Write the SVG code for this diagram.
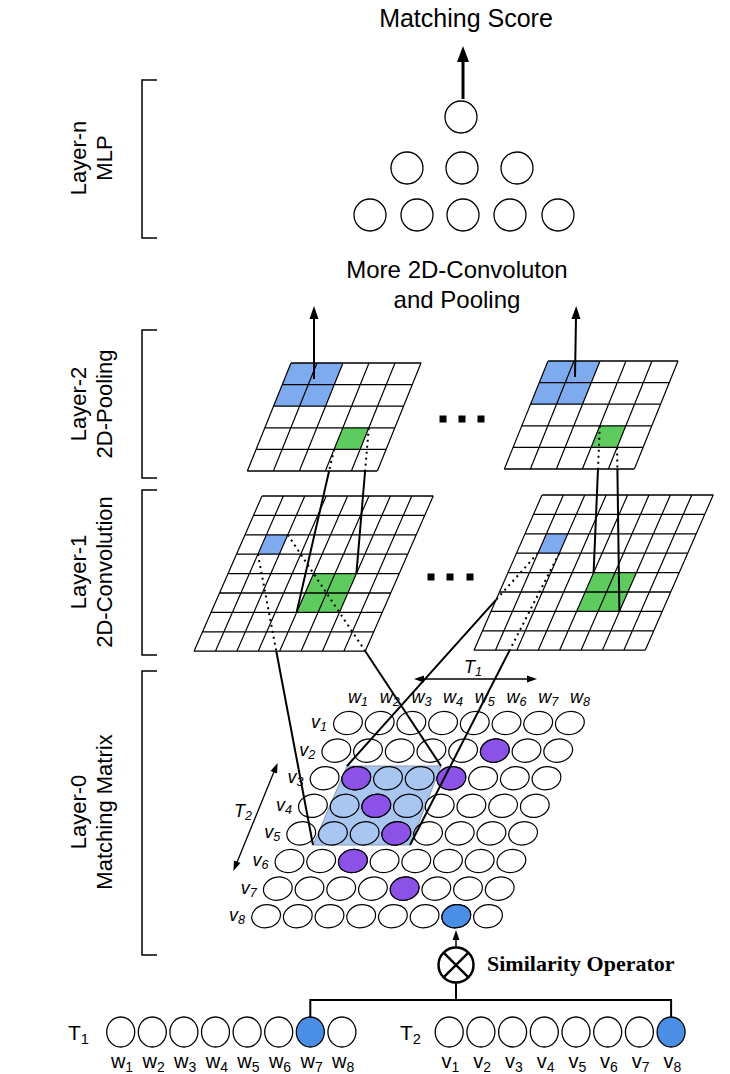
<svg xmlns="http://www.w3.org/2000/svg" width="730" height="1074" viewBox="0 0 730 1074">
<style>
text{font-family:"Liberation Sans",Arial,sans-serif;fill:#000}
.lbl{font-size:22px;text-anchor:middle}
.big{font-size:24px;text-anchor:middle}
.it{font-style:italic;font-size:18px;text-anchor:middle}
.bt{font-size:20px;text-anchor:middle}
.sub{font-size:0.7em}
.br{fill:none;stroke:#000;stroke-width:1.5}
.nd{fill:#fff;stroke:#000;stroke-width:1.3}
.grid{fill:none;stroke:#000;stroke-width:1.3}
.cb{fill:#7eaaf0}
.cg{fill:#5ecb5e}
.el{fill:none;stroke:#000;stroke-width:1.2}
.pu{fill:#8c52e8;stroke:#000;stroke-width:1.2}
.bl{fill:#4a8ee6;stroke:#000;stroke-width:1.2}
.sol{fill:none;stroke:#000;stroke-width:2}
.dot{fill:none;stroke:#000;stroke-width:2;stroke-dasharray:2 4}
.thin{fill:none;stroke:#000;stroke-width:1.3}
.sq{fill:#000}
</style>
<defs>
<marker id="ahB" markerUnits="userSpaceOnUse" markerWidth="16" markerHeight="12" refX="1" refY="6" orient="auto" overflow="visible"><path d="M0,0L16,6L0,12z"/></marker>
<marker id="ahM" markerUnits="userSpaceOnUse" markerWidth="13" markerHeight="9" refX="1" refY="4.5" orient="auto" overflow="visible"><path d="M0,0L13,4.5L0,9z"/></marker>
<marker id="ahS" markerUnits="userSpaceOnUse" markerWidth="10" markerHeight="7" refX="1" refY="3.5" orient="auto-start-reverse" overflow="visible"><path d="M0,0L10,3.5L0,7z"/></marker>
<path id="pgrid" d="M0,0H130M0,21.6H130M0,43.2H130M0,64.8H130M0,86.4H130M0,108H130M0,0V108M26,0V108M52,0V108M78,0V108M104,0V108M130,0V108"/>
<path id="cgrid" d="M0,0H171.2M0,19.4H171.2M0,38.8H171.2M0,58.2H171.2M0,77.6H171.2M0,97H171.2M0,116.4H171.2M0,135.8H171.2M0,155.2H171.2M0,0V155.2M21.4,0V155.2M42.8,0V155.2M64.2,0V155.2M85.6,0V155.2M107,0V155.2M128.4,0V155.2M149.8,0V155.2M171.2,0V155.2"/>
<ellipse id="e" rx="14.5" ry="11.5" transform="rotate(-12)"/>
<g id="row" class="el">
<use href="#e" x="0"/><use href="#e" x="31.7"/><use href="#e" x="63.4"/><use href="#e" x="95.1"/><use href="#e" x="126.8"/><use href="#e" x="158.5"/><use href="#e" x="190.2"/><use href="#e" x="221.9"/>
</g>
</defs>
<rect width="730" height="1074" fill="#fff"/>

<g id="layer-labels">
<path class="br" d="M157,80H142V238H157"/>
<path class="br" d="M157,330H142V478H157"/>
<path class="br" d="M157,490H142V655H157"/>
<path class="br" d="M157,671H142V955H157"/>
<text class="lbl" transform="translate(86,158) rotate(-90)">Layer-n</text>
<text class="lbl" transform="translate(112,158) rotate(-90)">MLP</text>
<text class="lbl" transform="translate(86,404) rotate(-90)">Layer-2</text>
<text class="lbl" transform="translate(112,404) rotate(-90)">2D-Pooling</text>
<text class="lbl" transform="translate(86,572) rotate(-90)">Layer-1</text>
<text class="lbl" transform="translate(112,572) rotate(-90)">2D-Convolution</text>
<text class="lbl" transform="translate(86,812) rotate(-90)">Layer-0</text>
<text class="lbl" transform="translate(112,812) rotate(-90)">Matching Matrix</text>
</g>

<g id="score"><text x="466" y="27" style="font-size:25px;text-anchor:middle">Matching Score</text></g>

<g id="mlp">
<circle class="nd" cx="461" cy="117" r="16"/>
<circle class="nd" cx="407" cy="168" r="16"/><circle class="nd" cx="462" cy="168" r="16"/><circle class="nd" cx="517" cy="168" r="16"/>
<circle class="nd" cx="370" cy="215" r="16"/><circle class="nd" cx="417" cy="215" r="16"/><circle class="nd" cx="463" cy="215" r="16"/><circle class="nd" cx="510" cy="215" r="16"/><circle class="nd" cx="558" cy="215" r="16"/>
</g>

<g id="more-conv"><text class="big" x="457" y="278">More 2D-Convoluton</text><text class="big" x="457" y="308">and Pooling</text></g>

<g id="pool-left" transform="matrix(1,0,-0.404,1,291,363)">
<rect class="cb" x="0" y="0" width="52" height="43.2"/>
<rect class="cg" x="78" y="64.8" width="26" height="21.6"/>
<use href="#pgrid" class="grid"/>
</g>
<g id="pool-right" transform="matrix(1,0,-0.404,1,548,361)">
<rect class="cb" x="0" y="0" width="52" height="43.2"/>
<rect class="cg" x="78" y="64.8" width="26" height="21.6"/>
<use href="#pgrid" class="grid"/>
</g>
<g id="pool-dots"><rect class="sq" x="439.5" y="415.5" width="7" height="7"/><rect class="sq" x="458.5" y="415.5" width="7" height="7"/><rect class="sq" x="477.5" y="415.5" width="7" height="7"/></g>

<g id="conv-left" transform="matrix(1,0,-0.438,1,262,496)">
<rect class="cb" x="21.4" y="38.8" width="21.4" height="19.4"/>
<rect class="cg" x="85.6" y="77.6" width="42.8" height="38.8"/>
<use href="#cgrid" class="grid"/>
</g>
<g id="conv-right" transform="matrix(1,0,-0.438,1,542,495)">
<rect class="cb" x="21.4" y="38.8" width="21.4" height="19.4"/>
<rect class="cg" x="85.6" y="77.6" width="42.8" height="38.8"/>
<use href="#cgrid" class="grid"/>
</g>
<g id="conv-dots"><rect class="sq" x="427.5" y="573.5" width="7" height="7"/><rect class="sq" x="446.5" y="573.5" width="7" height="7"/><rect class="sq" x="466.5" y="573.5" width="7" height="7"/></g>

<g id="matrix">
<polygon points="347,766 441,766 410,845 313,845" fill="#a9c6f0" stroke="#8a9ab0" stroke-width="1"/>
<use href="#row" x="348" y="723"/>
<use href="#row" x="336.3" y="750.6"/>
<use href="#row" x="324.6" y="778.2"/>
<use href="#row" x="312.9" y="805.8"/>
<use href="#row" x="301.2" y="833.4"/>
<use href="#row" x="289.5" y="861"/>
<use href="#row" x="277.8" y="888.6"/>
<use href="#row" x="266.1" y="916.2"/>
<use href="#e" class="pu" x="494.8" y="750.6"/>
<use href="#e" class="pu" x="356.3" y="778.2"/>
<use href="#e" class="pu" x="451.4" y="778.2"/>
<use href="#e" class="pu" x="376.3" y="805.8"/>
<use href="#e" class="pu" x="396.3" y="833.4"/>
<use href="#e" class="pu" x="352.9" y="861"/>
<use href="#e" class="pu" x="404.6" y="888.6"/>
<use href="#e" class="bl" x="456.3" y="916.2"/>
<text class="it" x="358" y="703">w<tspan class="sub" dy="3">1</tspan></text>
<text class="it" x="389.7" y="703">w<tspan class="sub" dy="3">2</tspan></text>
<text class="it" x="421.4" y="703">w<tspan class="sub" dy="3">3</tspan></text>
<text class="it" x="453.1" y="703">w<tspan class="sub" dy="3">4</tspan></text>
<text class="it" x="484.8" y="703">w<tspan class="sub" dy="3">5</tspan></text>
<text class="it" x="516.5" y="703">w<tspan class="sub" dy="3">6</tspan></text>
<text class="it" x="548.2" y="703">w<tspan class="sub" dy="3">7</tspan></text>
<text class="it" x="579.9" y="703">w<tspan class="sub" dy="3">8</tspan></text>
<text class="it" x="319" y="728">v<tspan class="sub" dy="3">1</tspan></text>
<text class="it" x="307.3" y="755.6">v<tspan class="sub" dy="3">2</tspan></text>
<text class="it" x="295.6" y="783.2">v<tspan class="sub" dy="3">3</tspan></text>
<text class="it" x="283.9" y="810.8">v<tspan class="sub" dy="3">4</tspan></text>
<text class="it" x="272.2" y="838.4">v<tspan class="sub" dy="3">5</tspan></text>
<text class="it" x="260.5" y="866">v<tspan class="sub" dy="3">6</tspan></text>
<text class="it" x="248.8" y="893.6">v<tspan class="sub" dy="3">7</tspan></text>
<text class="it" x="237.1" y="921.2">v<tspan class="sub" dy="3">8</tspan></text>
<line class="thin" x1="423" y1="679" x2="528" y2="679" marker-start="url(#ahS)" marker-end="url(#ahS)"/>
<text class="it" x="473" y="673">T<tspan class="sub" dy="3">1</tspan></text>
<line class="thin" x1="274.2" y1="771.3" x2="236.8" y2="862.7" marker-start="url(#ahS)" marker-end="url(#ahS)"/>
<text class="it" x="243" y="817">T<tspan class="sub" dy="3">2</tspan></text>
</g>

<g id="operator">
<circle cx="456" cy="965" r="17.5" fill="#fff" stroke="#000" stroke-width="2.5"/>
<path d="M443.6,952.6L468.4,977.4M468.4,952.6L443.6,977.4" stroke="#000" stroke-width="2.5"/>
<text x="487" y="971" style="font-family:'Liberation Serif','Times New Roman',serif;font-weight:bold;font-size:22px">Similarity Operator</text>
</g>

<g id="input-t1">
<text x="68" y="1040" style="font-size:21px">T<tspan class="sub" dy="4">1</tspan></text>
<ellipse class="nd" cx="120.7" cy="1032" rx="14" ry="15"/><ellipse class="nd" cx="152.3" cy="1032" rx="14" ry="15"/><ellipse class="nd" cx="183.9" cy="1032" rx="14" ry="15"/><ellipse class="nd" cx="215.5" cy="1032" rx="14" ry="15"/><ellipse class="nd" cx="247.1" cy="1032" rx="14" ry="15"/><ellipse class="nd" cx="278.7" cy="1032" rx="14" ry="15"/><ellipse class="nd" cx="310.3" cy="1032" rx="14" ry="15" style="fill:#4a8ee6"/><ellipse class="nd" cx="341.9" cy="1032" rx="14" ry="15"/>
<text class="bt" x="122" y="1068">w<tspan class="sub" dy="4">1</tspan></text>
<text class="bt" x="153.6" y="1068">w<tspan class="sub" dy="4">2</tspan></text>
<text class="bt" x="185.2" y="1068">w<tspan class="sub" dy="4">3</tspan></text>
<text class="bt" x="216.8" y="1068">w<tspan class="sub" dy="4">4</tspan></text>
<text class="bt" x="248.4" y="1068">w<tspan class="sub" dy="4">5</tspan></text>
<text class="bt" x="280" y="1068">w<tspan class="sub" dy="4">6</tspan></text>
<text class="bt" x="311.6" y="1068">w<tspan class="sub" dy="4">7</tspan></text>
<text class="bt" x="343.2" y="1068">w<tspan class="sub" dy="4">8</tspan></text>
</g>

<g id="input-t2">
<text x="400" y="1040" style="font-size:21px">T<tspan class="sub" dy="4">2</tspan></text>
<ellipse class="nd" cx="449.2" cy="1032" rx="14" ry="15"/><ellipse class="nd" cx="480.9" cy="1032" rx="14" ry="15"/><ellipse class="nd" cx="512.6" cy="1032" rx="14" ry="15"/><ellipse class="nd" cx="544.3" cy="1032" rx="14" ry="15"/><ellipse class="nd" cx="576" cy="1032" rx="14" ry="15"/><ellipse class="nd" cx="607.7" cy="1032" rx="14" ry="15"/><ellipse class="nd" cx="639.4" cy="1032" rx="14" ry="15"/><ellipse class="nd" cx="671.1" cy="1032" rx="14" ry="15" style="fill:#4a8ee6"/>
<text class="bt" x="450.5" y="1068">v<tspan class="sub" dy="4">1</tspan></text>
<text class="bt" x="482.2" y="1068">v<tspan class="sub" dy="4">2</tspan></text>
<text class="bt" x="513.9" y="1068">v<tspan class="sub" dy="4">3</tspan></text>
<text class="bt" x="545.6" y="1068">v<tspan class="sub" dy="4">4</tspan></text>
<text class="bt" x="577.3" y="1068">v<tspan class="sub" dy="4">5</tspan></text>
<text class="bt" x="609" y="1068">v<tspan class="sub" dy="4">6</tspan></text>
<text class="bt" x="640.7" y="1068">v<tspan class="sub" dy="4">7</tspan></text>
<text class="bt" x="672.4" y="1068">v<tspan class="sub" dy="4">8</tspan></text>
</g>

<g id="connectors">
<line x1="463" y1="99" x2="463" y2="61" stroke="#000" stroke-width="3" marker-end="url(#ahB)"/>
<line x1="314" y1="379" x2="314" y2="318" stroke="#000" stroke-width="2" marker-end="url(#ahM)"/>
<line x1="575" y1="377" x2="576" y2="318" stroke="#000" stroke-width="2" marker-end="url(#ahM)"/>
<path class="dot" d="M334.1,449.4L329.1,471"/><path class="sol" d="M329.1,471L296.6,612.4"/>
<path class="dot" d="M368.8,427.8L365.1,471"/><path class="sol" d="M365.1,471L356.4,573.6"/>
<path class="dot" d="M599.8,425.8L598,469"/><path class="sol" d="M598,469L593.6,572.6"/>
<path class="dot" d="M617.1,447.4L617.4,469"/><path class="sol" d="M617.4,469L619.4,611.4"/>
<path class="dot" d="M257.9,554.2L276.3,651.2"/><path class="sol" d="M276.3,651.2L313,845"/>
<path class="dot" d="M287.8,534.8L365.3,651.2"/><path class="sol" d="M365.3,651.2L441,766"/>
<path class="dot" d="M537.9,553.2L496,599.9"/><path class="sol" d="M496,599.9L347,766"/>
<path class="dot" d="M559.3,553.2L509.7,650.2"/><path class="sol" d="M509.7,650.2L410,845"/>
<line x1="456" y1="947" x2="456" y2="939" stroke="#000" stroke-width="1.5" marker-end="url(#ahS)"/>
<path class="sol" d="M456,983V1000M310.3,1000H671.1M310.3,999V1017M671.1,999V1017"/>
</g>
</svg>
